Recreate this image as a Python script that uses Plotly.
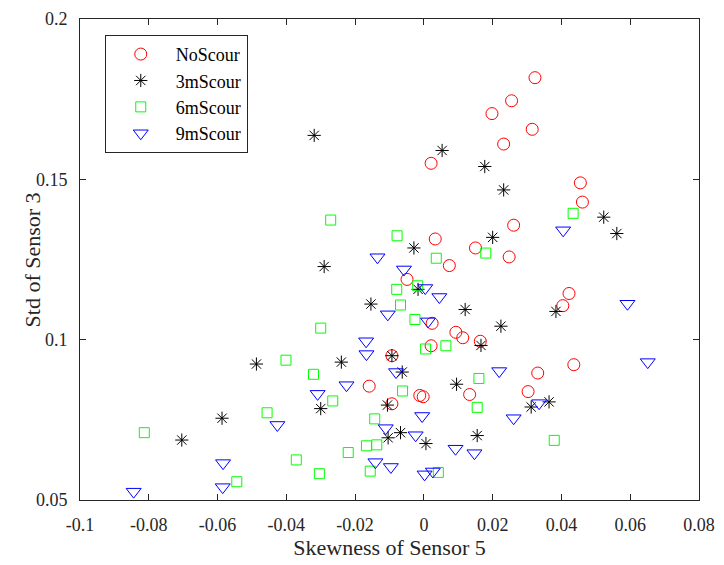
import plotly.graph_objects as go

# ---------------- data ----------------
noscour_x = [0.0323, 0.0255, 0.0198, 0.0315, 0.0232, 0.0021, 0.0455, 0.0461, 0.0261, 0.0033,
             0.0150, 0.0248, 0.0074, -0.0049, 0.0422, 0.0404, 0.0024, 0.0093, 0.0113, 0.0164,
             0.0021, -0.0093, 0.0436, 0.0331, -0.0159, -0.0012, -0.0002, 0.0133, 0.0303, -0.0093]
noscour_y = [0.1817, 0.1745, 0.1705, 0.1656, 0.1610, 0.1550, 0.1489, 0.1429, 0.1357, 0.1314,
             0.1286, 0.1258, 0.1231, 0.1188, 0.1144, 0.1106, 0.1051, 0.1023, 0.1006, 0.0995,
             0.0981, 0.0950, 0.0922, 0.0896, 0.0855, 0.0826, 0.0822, 0.0829, 0.0838, 0.0800]

s3m_x = [-0.0319, 0.0053, 0.0177, 0.0232, 0.0523, 0.0561, 0.0200, -0.0029, -0.0290, -0.0017,
         -0.0154, 0.0120, 0.0384, 0.0224, 0.0166, -0.0093, -0.0487, -0.0240, -0.0063, 0.0095,
         -0.0106, -0.0300, 0.0312, 0.0364, -0.0587, -0.0068, -0.0104, 0.0155, 0.0006, -0.0704]
s3m_y = [0.1637, 0.1590, 0.1540, 0.1467, 0.1382, 0.1331, 0.1319, 0.1286, 0.1228, 0.1157,
         0.1111, 0.1094, 0.1088, 0.1042, 0.0982, 0.0950, 0.0924, 0.0930, 0.0899, 0.0861,
         0.0796, 0.0785, 0.0790, 0.0806, 0.0755, 0.0710, 0.0694, 0.0701, 0.0676, 0.0687]

s6m_x = [-0.0271, 0.0434, -0.0078, 0.0180, 0.0036, -0.0079, -0.0018, -0.0068, -0.0026, -0.0300,
         0.0064, 0.0005, -0.0401, -0.0321, 0.0160, -0.0062, -0.0265, 0.0155, -0.0456, -0.0143,
         -0.0813, 0.0379, -0.0167, -0.0137, -0.0220, -0.0371, -0.0156, -0.0304, -0.0544, 0.0042]
s6m_y = [0.1373, 0.1394, 0.1324, 0.1270, 0.1254, 0.1157, 0.1168, 0.1108, 0.1063, 0.1036,
         0.0981, 0.0971, 0.0936, 0.0892, 0.0879, 0.0840, 0.0809, 0.0789, 0.0772, 0.0753,
         0.0710, 0.0686, 0.0669, 0.0672, 0.0648, 0.0625, 0.0590, 0.0582, 0.0557, 0.0586]

s9m_x = [-0.0135, 0.0405, -0.0058, 0.0004, 0.0045, 0.0592, -0.0105, 0.0012, -0.0168, -0.0167,
         0.0651, -0.0081, 0.0219, -0.0225, -0.0309, 0.0335, -0.0005, 0.0261, -0.0426, -0.0111,
         -0.0024, 0.0092, 0.0147, -0.0141, -0.0584, -0.0096, 0.0002, 0.0026, -0.0585, -0.0844]
s9m_y = [0.1257, 0.1341, 0.1219, 0.1161, 0.1133, 0.1112, 0.1079, 0.1057, 0.0995, 0.0955,
         0.0930, 0.0899, 0.0902, 0.0858, 0.0831, 0.0802, 0.0762, 0.0755, 0.0734, 0.0724,
         0.0702, 0.0660, 0.0646, 0.0618, 0.0615, 0.0603, 0.0580, 0.0589, 0.0540, 0.0526]

series_names = ["NoScour", "3mScour", "6mScour", "9mScour"]

x_tickvals = [-0.1, -0.08, -0.06, -0.04, -0.02, 0, 0.02, 0.04, 0.06, 0.08]
x_ticktext = ["-0.1", "-0.08", "-0.06", "-0.04", "-0.02", "0", "0.02", "0.04", "0.06", "0.08"]
y_tickvals = [0.05, 0.1, 0.15, 0.2]
y_ticktext = ["0.05", "0.1", "0.15", "0.2"]

x_title = "Skewness of Sensor 5"
y_title = "Std of Sensor 3"

# ---------------- figure ----------------
FONT = "Liberation Serif"
AXC = "#262626"

fig = go.Figure()
fig.add_trace(go.Scatter(x=noscour_x, y=noscour_y, mode="markers", name=series_names[0],
                         marker=dict(symbol="circle-open", size=12, color="#ff0000",
                                     line=dict(width=1, color="#ff0000"))))
fig.add_trace(go.Scatter(x=s3m_x, y=s3m_y, mode="markers", name=series_names[1],
                         marker=dict(symbol="asterisk-open", size=11, color="#000000",
                                     line=dict(width=1, color="#000000"))))
fig.add_trace(go.Scatter(x=s6m_x, y=s6m_y, mode="markers", name=series_names[2],
                         marker=dict(symbol="square-open", size=10, color="#00ff00",
                                     line=dict(width=1, color="#00ff00"))))
fig.add_trace(go.Scatter(x=s9m_x, y=s9m_y, mode="markers", name=series_names[3],
                         marker=dict(symbol="triangle-down-open", size=13, color="#0000ff",
                                     line=dict(width=1, color="#0000ff"))))

axis_common = dict(showgrid=False, zeroline=False, showline=True, linecolor=AXC, linewidth=1,
                   mirror="ticks", ticks="inside", ticklen=6, tickcolor=AXC, tickwidth=1,
                   tickfont=dict(family=FONT, size=18, color=AXC))

fig.update_layout(
    width=724, height=565,
    margin=dict(l=80, r=18, t=9, b=63),
    paper_bgcolor="white", plot_bgcolor="white",
    font=dict(family=FONT, color=AXC),
    xaxis=dict(range=[-0.1, 0.08], tickvals=x_tickvals, ticktext=x_ticktext,
               ticklabelstandoff=8,
               title=dict(text=x_title, font=dict(family=FONT, size=22, color=AXC),
                          standoff=6),
               **axis_common),
    yaxis=dict(range=[0.05, 0.2], tickvals=y_tickvals, ticktext=y_ticktext,
               ticklabelstandoff=8, **axis_common),
    legend=dict(x=0.04, y=0.967, xanchor="left", yanchor="top",
                bgcolor="white", bordercolor="#262626", borderwidth=1,
                font=dict(family=FONT, size=18, color="#000000"),
                itemwidth=60, tracegroupgap=0),
    showlegend=True,
)

fig.add_annotation(text=y_title, textangle=-90, xref="paper", yref="paper",
                   x=-0.076, y=0.5, xanchor="center", yanchor="middle", showarrow=False,
                   font=dict(family=FONT, size=22, color=AXC))

fig.write_html("out.html")
